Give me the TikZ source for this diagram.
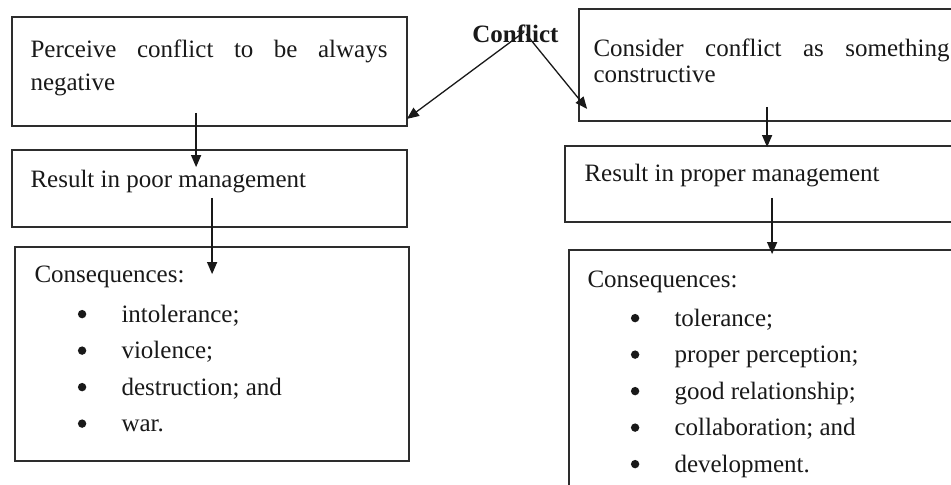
\documentclass[tikz,border=0pt]{standalone}
\usepackage{fontspec}
\setmainfont{Liberation Serif}
\usepackage{tikz}
\usetikzlibrary{arrows.meta,positioning,calc}
\usepackage{xcolor}
\definecolor{boxline}{RGB}{45,45,45}
\definecolor{inkdark}{RGB}{25,25,25}
\newcommand{\bodysize}{\fontsize{12.5pt}{15pt}\selectfont}

\begin{document}
\begin{tikzpicture}[
    x=0.5pt, y=-0.5pt,
    box/.style={draw=boxline,line width=0.9pt,inner sep=0pt},
    txt/.style={inner sep=0pt,anchor=base west,font=\bodysize,text=inkdark},
    dot/.style={circle,fill=inkdark,inner sep=0pt,minimum size=4.2pt},
    arr/.style={-{Triangle[length=6pt,width=5pt]},line width=0.65pt,draw=inkdark}
]
\useasboundingbox (0,0) rectangle (951,484);
\clip (0,0) rectangle (951,484);

% left column
\node[box,minimum width=197.5pt,minimum height=54.5pt] (negview) at (209.5,71.5) {};
\node[box,minimum width=197.5pt,minimum height=38.5pt] (negmgmt) at (209.5,188.5) {};
\node[box,minimum width=197pt,minimum height=107pt] (negcons) at (212,354) {};

\node[txt] (negview-a) at ($(negview.north west)+(19,41)$) {\makebox[178.5pt][s]{Perceive conflict to be always}};
\node[txt] (negview-b) at ($(negview.north west)+(19,74)$) {negative};
\node[txt] (negmgmt-a) at ($(negmgmt.north west)+(19,38)$) {Result in poor management};
\node[txt] (negcons-h) at ($(negcons.north west)+(20,36)$) {Consequences:};
\foreach \conseq [count=\i] in {{intolerance;},{violence;},{destruction; and},{war.}}{
  \node[dot] (negdot-\i) at ($(negcons.north west)+(68,{76+36.5*(\i-1)-8})$) {};
  \node[txt] (negitem-\i) at ($(negcons.north west)+(107,{76+36.5*(\i-1)})$) {\conseq};
}

% right column
\node[box,minimum width=195.5pt,minimum height=56pt] (posview) at (774.5,65) {};
\node[box,minimum width=202.5pt,minimum height=38pt] (posmgmt) at (767.5,184) {};
\node[box,minimum width=200.5pt,minimum height=130pt] (poscons) at (769.5,380) {};

\node[txt] (posview-a) at ($(posview.north west)+(15,48)$) {\makebox[178pt][s]{Consider conflict as something}};
\node[txt] (posview-b) at ($(posview.north west)+(15,74)$) {constructive};
\node[txt] (posmgmt-a) at ($(posmgmt.north west)+(20,36)$) {Result in proper management};
\node[txt] (poscons-h) at ($(poscons.north west)+(19,38)$) {Consequences:};
\foreach \conseq [count=\i] in {{tolerance;},{proper perception;},{good relationship;},{collaboration; and},{development.}}{
  \node[dot] (posdot-\i) at ($(poscons.north west)+(67,{77+36.5*(\i-1)-8})$) {};
  \node[txt] (positem-\i) at ($(poscons.north west)+(106,{77+36.5*(\i-1)})$) {\conseq};
}

% root label and arrows
\node[txt,font=\bodysize\bfseries] (conflict) at (472,42) {Conflict};

\draw[arr] ($(conflict.base west)+(52,-10)$) -- ($(negview.south east)+(-1,-8)$);
\draw[arr] ($(conflict.base west)+(54,-8)$) -- ($(posview.south west)+(9,-13)$);
\draw[arr] ($(negview.south west)+(185,-14)$) -- ($(negmgmt.north west)+(185,18)$);
\draw[arr] ($(negmgmt.south west)+(201,-30)$) -- ($(negcons.north west)+(198,28)$);
\draw[arr] ($(posview.south west)+(189,-15)$) -- ($(posmgmt.north west)+(203,2)$);
\draw[arr] ($(posmgmt.south west)+(208,-25)$) -- ($(poscons.north west)+(204,5)$);
\end{tikzpicture}
\end{document}
